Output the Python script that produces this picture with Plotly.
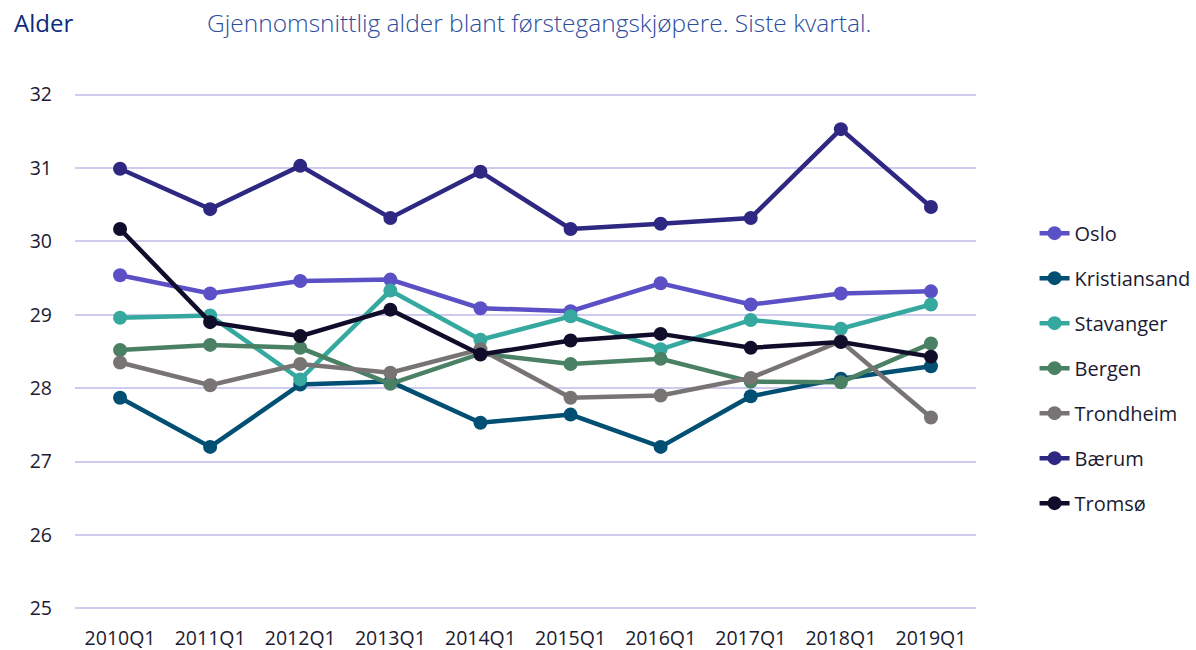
import plotly.graph_objects as go

quarters = ["2010Q1", "2011Q1", "2012Q1", "2013Q1", "2014Q1",
            "2015Q1", "2016Q1", "2017Q1", "2018Q1", "2019Q1"]

oslo = [29.54, 29.29, 29.46, 29.48, 29.09, 29.05, 29.43, 29.14, 29.29, 29.32]
kristiansand = [27.87, 27.20, 28.05, 28.09, 27.53, 27.64, 27.20, 27.89, 28.13, 28.30]
stavanger = [28.96, 28.99, 28.12, 29.33, 28.66, 28.98, 28.53, 28.93, 28.81, 29.14]
bergen = [28.52, 28.59, 28.55, 28.06, 28.47, 28.33, 28.40, 28.09, 28.08, 28.61]
trondheim = [28.35, 28.04, 28.33, 28.21, 28.53, 27.87, 27.90, 28.14, 28.64, 27.60]
baerum = [30.99, 30.44, 31.03, 30.32, 30.95, 30.17, 30.24, 30.32, 31.53, 30.47]
tromso = [30.17, 28.90, 28.71, 29.07, 28.46, 28.65, 28.74, 28.55, 28.63, 28.43]

series = [
    ("Oslo", oslo, "#5B50C6"),
    ("Kristiansand", kristiansand, "#014F72"),
    ("Stavanger", stavanger, "#35A99F"),
    ("Bergen", bergen, "#4A8063"),
    ("Trondheim", trondheim, "#787474"),
    ("Bærum", baerum, "#2E2882"),
    ("Tromsø", tromso, "#100D2B"),
]

fig = go.Figure()
for i, (name, vals, col) in enumerate(series):
    fig.add_trace(go.Scatter(
        x=quarters, y=vals, name=name, mode="lines+markers",
        line=dict(color=col, width=4.5),
        marker=dict(color=col, size=14),
        legendgroup=f"g{i}",
    ))

tick_font = dict(family="Open Sans", size=19.5, color="#1C1B33")

# plot area: left 75, right 976; range [24.95, 32.05]
fig.update_layout(
    width=1196, height=650,
    margin=dict(l=75, r=220, t=91, b=38, autoexpand=False),
    plot_bgcolor="white", paper_bgcolor="white",
    showlegend=True,
    legend=dict(
        x=1.065, xanchor="left", y=0.468, yanchor="middle",
        font=dict(family="Open Sans", size=20, color="#1C1B33"),
        tracegroupgap=16,
        bgcolor="rgba(0,0,0,0)",
    ),
    xaxis=dict(
        type="category", range=[-0.5, 9.5], automargin=False,
        showgrid=False, showline=False, zeroline=False,
        tickfont=tick_font, ticks="", ticklabelstandoff=12,
    ),
    yaxis=dict(
        range=[24.95, 32.05], dtick=1, tick0=25, automargin=False,
        showgrid=True, gridcolor="#CFCBEE", gridwidth=2,
        showline=False, zeroline=False,
        tickfont=tick_font, ticks="", ticklabelstandoff=22,
    ),
    annotations=[
        dict(text="Alder", xref="paper", yref="paper", x=0, y=1 + (91 - 22) / 521,
             xanchor="left", yanchor="middle", showarrow=False, xshift=-63,
             font=dict(family="Open Sans", size=24, color="#0B2B7C")),
        dict(text="Gjennomsnittlig alder blant førstegangskjøpere. Siste kvartal.",
             xref="paper", yref="paper", x=(205 - 75) / 901, y=1 + (91 - 22) / 521,
             xanchor="left", yanchor="middle", showarrow=False,
             font=dict(family="Open Sans", size=24.5, color="#2C4C9E", weight=300)),
    ],
)

fig.write_html("out.html", config={"displayModeBar": False},
               post_script="document.body.style.margin='0';window.dispatchEvent(new Event('resize'));")
